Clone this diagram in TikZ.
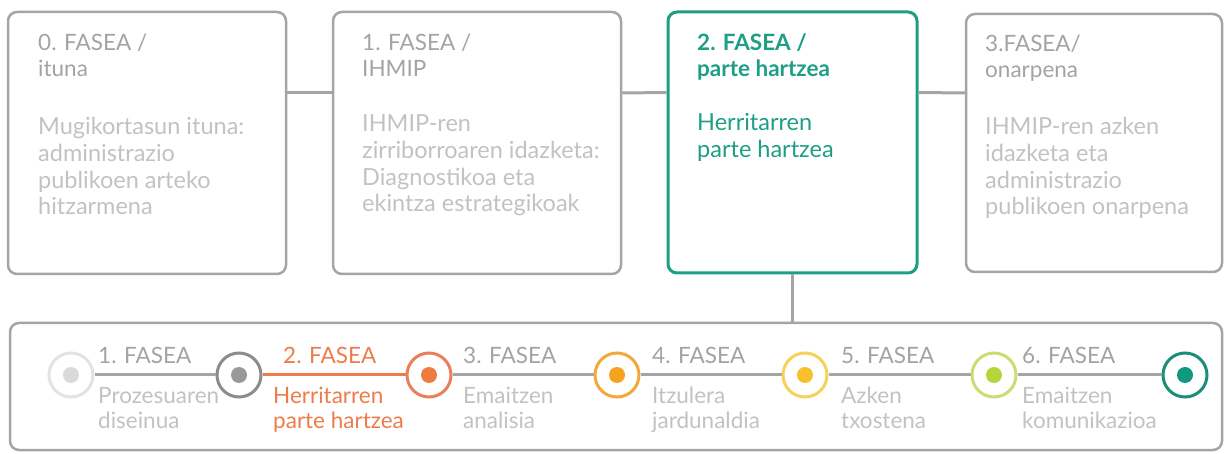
\documentclass[tikz,border=0pt]{standalone}
\usepackage{fontspec}
\setmainfont{Lato}
\definecolor{bordergray}{HTML}{A5A5A5}
\definecolor{headgray}{HTML}{A3A3A3}
\definecolor{bodygray}{HTML}{C2C2C2}
\definecolor{tealc}{HTML}{1E9E84}
\definecolor{orangec}{HTML}{EE7B4A}
\definecolor{c1ring}{HTML}{E3E3E3}
\definecolor{c1dot}{HTML}{DADADA}
\definecolor{c2ring}{HTML}{8C8C8C}
\definecolor{c2dot}{HTML}{999999}
\definecolor{c3ring}{HTML}{EA7F5C}
\definecolor{c3dot}{HTML}{EF7B3E}
\definecolor{c4ring}{HTML}{F4A83A}
\definecolor{c4dot}{HTML}{F5A21F}
\definecolor{c5ring}{HTML}{F7D25A}
\definecolor{c5dot}{HTML}{F8C02C}
\definecolor{c6ring}{HTML}{C6DE72}
\definecolor{c6dot}{HTML}{B6D43C}
\definecolor{c7ring}{HTML}{1A8E78}
\definecolor{c7dot}{HTML}{0F9A80}
\tikzset{
  phasebox/.style={draw=bordergray, line width=2.5pt, rounded corners=9pt, inner sep=0pt},
  activebox/.style={draw=tealc, line width=3pt, rounded corners=9pt, inner sep=0pt},
  link/.style={draw=bordergray, line width=3pt},
  head/.style={anchor=base west, inner sep=0pt, text=headgray, font=\fontsize{22.5}{26}\selectfont},
  body/.style={anchor=base west, inner sep=0pt, text=bodygray, font=\fontsize{23.5}{26}\selectfont},
  thead/.style={anchor=base west, inner sep=0pt, text=headgray, font=\fontsize{22.5}{25}\selectfont},
  tbody/.style={anchor=base west, inner sep=0pt, text=bodygray, font=\fontsize{22.5}{25}\selectfont},
  ring/.style={circle, line width=3pt, minimum size=44pt, inner sep=0pt, fill=white},
  dotc/.style={circle, minimum size=16pt, inner sep=0pt},
}
\begin{document}
\begin{tikzpicture}[x=1pt, y=-1pt]
\useasboundingbox (0,0) rectangle (1224,454);
% top boxes
\node[phasebox, minimum width=278pt, minimum height=262pt] (b0) at (147,143) {};
\node[phasebox, minimum width=288pt, minimum height=262pt] (b1) at (477,143) {};
\node[activebox, minimum width=249pt, minimum height=261pt] (b2) at (792.5,142.5) {};
\node[phasebox, minimum width=256pt, minimum height=258pt] (b3) at (1094,143) {};
\draw[link] ([yshift=50pt]b0.east) -- ([yshift=50pt]b1.west);
\draw[link] ([yshift=50pt]b1.east) -- ([yshift=50pt]b2.west);
\draw[link] ([yshift=50pt]b2.east) -- ([yshift=50pt]b3.west);
% bottom box
\node[phasebox, minimum width=1212pt, minimum height=127pt] (bot) at (616,386.5) {};
\draw[link] (b2.south) -- (b2.south |- bot.north);
% texts in top boxes
\node[head] (h0a) at (38,51) {0. FASEA /};
\node[head] (h0b) at (38,77) {ituna};
\foreach \t [count=\i] in {{Mugikortasun ituna:},{administrazio},{publikoen arteko},{hitzarmena}}
  \node[body] (t0-\i) at (38,{135+26.6*(\i-1)}) {\t};
\node[head] (h1a) at (362,51) {1. FASEA /};
\node[head] (h1b) at (362,77) {IHMIP};
\foreach \t [count=\i] in {{IHMIP-ren},{zirriborroaren idazketa:},{Diagnostikoa eta},{ekintza estrategikoak}}
  \node[body] (t1-\i) at (362,{132+26.6*(\i-1)}) {\t};
\node[head, text=tealc, font=\fontsize{22.5}{26}\selectfont\bfseries] (h2a) at (697,51) {2. FASEA /};
\node[head, text=tealc, font=\fontsize{22.5}{26}\selectfont\bfseries] (h2b) at (697,77) {parte hartzea};
\node[body, text=tealc] (t2-1) at (697,131) {Herritarren};
\node[body, text=tealc] (t2-2) at (697,158) {parte hartzea};
\node[head] (h3a) at (985,52) {3.FASEA/};
\node[head] (h3b) at (985,78) {onarpena};
\foreach \t [count=\i] in {{IHMIP-ren azken},{idazketa eta},{administrazio},{publikoen onarpena}}
  \node[body] (t3-\i) at (985,{135+26.6*(\i-1)}) {\t};
% timeline circles
\node[ring, draw=c1ring] (c1) at (71,375) {};
\node[ring, draw=c2ring] (c2) at (239,375) {};
\node[ring, draw=c3ring] (c3) at (429,375) {};
\node[ring, draw=c4ring] (c4) at (617,375) {};
\node[ring, draw=c5ring] (c5) at (805,375) {};
\node[ring, draw=c6ring] (c6) at (994,375) {};
\node[ring, draw=c7ring] (c7) at (1185,375) {};
\node[dotc, fill=c1dot] (d1) at (c1) {};
\node[dotc, fill=c2dot] (d2) at (c2) {};
\node[dotc, fill=c3dot] (d3) at (c3) {};
\node[dotc, fill=c4dot] (d4) at (c4) {};
\node[dotc, fill=c5dot] (d5) at (c5) {};
\node[dotc, fill=c6dot] (d6) at (c6) {};
\node[dotc, fill=c7dot] (d7) at (c7) {};
\draw[link] (c1) -- (c2);
\draw[link, draw=orangec] (c2) -- (c3);
\draw[link] (c3) -- (c4);
\draw[link] (c4) -- (c5);
\draw[link] (c5) -- (c6);
\draw[link] (c6) -- (c7);
% timeline labels
\node[thead] (l1) at (98,363) {1. FASEA};
\node[tbody] (s1a) at (98,403) {Prozesuaren};
\node[tbody] (s1b) at (98,428) {diseinua};
\node[thead, text=orangec] (l2) at (283,363) {2. FASEA};
\node[tbody, text=orangec] (s2a) at (273,403) {Herritarren};
\node[tbody, text=orangec] (s2b) at (273,428) {parte hartzea};
\node[thead] (l3) at (463,363) {3. FASEA};
\node[tbody] (s3a) at (463,403) {Emaitzen};
\node[tbody] (s3b) at (463,428) {analisia};
\node[thead] (l4) at (652,363) {4. FASEA};
\node[tbody] (s4a) at (652,403) {Itzulera};
\node[tbody] (s4b) at (652,428) {jardunaldia};
\node[thead] (l5) at (841,363) {5. FASEA};
\node[tbody] (s5a) at (841,403) {Azken};
\node[tbody] (s5b) at (841,428) {txostena};
\node[thead] (l6) at (1022,363) {6. FASEA};
\node[tbody] (s6a) at (1022,403) {Emaitzen};
\node[tbody] (s6b) at (1022,428) {komunikazioa};
\end{tikzpicture}
\end{document}
